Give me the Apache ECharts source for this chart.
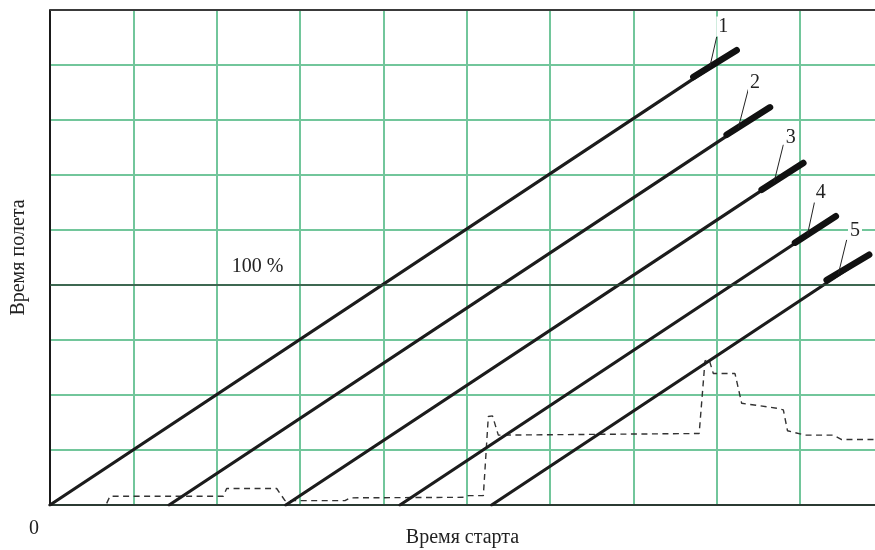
<!DOCTYPE html>
<html>
<head>
<meta charset="utf-8">
<script src="https://cdn.jsdelivr.net/npm/echarts@6/dist/echarts.min.js"></script>
<style>html,body{margin:0;padding:0;background:#fff}#c{width:875px;height:550px}</style>
</head>
<body>
<div id="c"></div>
<script>
// ---- data (grid units: x = start time, y = flight time) ----
const lineNames   = ['1', '2', '3', '4', '5'];
const lineStartX  = [0, 1.43, 2.83, 4.2, 5.3];
const lineStartY  = [0, 0, 0, 0, 0];
const thickStartX = [7.72, 8.12, 8.54, 8.94, 9.32];
const thickStartY = [7.78, 6.73, 5.73, 4.77, 4.09];
const lineEndX    = [8.24, 8.64, 9.04, 9.43, 9.83];
const lineEndY    = [8.27, 7.23, 6.22, 5.25, 4.55];
const labelX      = [8.08, 8.46, 8.89, 9.25, 9.66];
const labelY      = [8.70, 7.68, 6.67, 5.68, 4.98];
const leaderTopX  = [8.00, 8.38, 8.80, 9.18, 9.56];
const leaderTopY  = [8.51, 7.56, 6.55, 5.55, 4.82];
const leaderBotX  = [7.92, 8.26, 8.69, 9.09, 9.46];
const leaderBotY  = [7.98, 6.86, 5.88, 4.92, 4.20];
const loadX = [0.68, 0.72, 2.08, 2.12, 2.72, 2.82, 3.54, 3.60, 4.98, 5.02, 5.20, 5.26, 5.31, 5.38, 7.79, 7.86, 7.91, 7.96, 8.22, 8.30, 8.72, 8.80, 8.85, 9.06, 9.40, 9.50, 9.90];
const loadY = [0.03, 0.16, 0.16, 0.30, 0.30, 0.08, 0.08, 0.13, 0.14, 0.17, 0.17, 1.61, 1.62, 1.27, 1.30, 2.62, 2.64, 2.39, 2.39, 1.85, 1.76, 1.73, 1.35, 1.27, 1.27, 1.19, 1.19];
const fullLevel = 4;          // 100 %
const fullLabel = '100 %';
const fullLabelPos = [2.49, 4.33];
const xAxisTitle = 'Время старта';
const yAxisTitle = 'Время полета';
const xMin = 0, xMax = 9.9, yMin = 0, yMax = 9;

// ---- build ----
const FONT = 'Liberation Serif';
const GREEN = '#72c69b';
const series = [];

series.push({
  type: 'line', name: 'load', data: loadX.map((x, i) => [x, loadY[i]]),
  symbol: 'none', lineStyle: { color: '#333', width: 1.4, type: [6, 4.5] }, z: 3
});

lineNames.forEach((n, i) => {
  series.push({
    type: 'line', data: [[lineStartX[i], lineStartY[i]], [lineEndX[i], lineEndY[i]]],
    symbol: 'none', lineStyle: { color: '#1c1c1c', width: 3.2, cap: 'round' }, z: 4
  });
  series.push({
    type: 'line', data: [[thickStartX[i], thickStartY[i]], [lineEndX[i], lineEndY[i]]],
    symbol: 'none', lineStyle: { color: '#111', width: 6.5, cap: 'round' }, z: 5
  });
  series.push({
    type: 'line', data: [[leaderTopX[i], leaderTopY[i]], [leaderBotX[i], leaderBotY[i]]],
    symbol: 'none', lineStyle: { color: '#222', width: 1 }, z: 5
  });
});

series.push({
  type: 'scatter', symbolSize: 0, z: 6, itemStyle: { opacity: 1 },
  data: lineNames.map((n, i) => ({ value: [labelX[i], labelY[i]], name: n })),
  label: { show: true, position: 'inside', formatter: p => p.name, fontFamily: FONT, fontSize: 20,
           color: '#222', backgroundColor: '#fff', padding: [0, 2] }
});

series.push({
  type: 'scatter', symbolSize: 0, z: 6, itemStyle: { opacity: 1 },
  data: [{ value: fullLabelPos, name: fullLabel }],
  label: { show: true, position: 'inside', formatter: p => p.name, fontFamily: FONT, fontSize: 20, color: '#222' },
  markLine: {
    silent: true, symbol: 'none', label: { show: false },
    lineStyle: { color: '#2c4838', width: 1.6, type: 'solid' },
    data: [
      { yAxis: fullLevel },
      { yAxis: yMax, lineStyle: { color: '#3a3a3a', width: 1.8 } }
    ]
  }
});

const option = {
  animation: false,
  backgroundColor: '#fff',
  grid: { left: 50, top: 10, right: 0, bottom: 45, outerBoundsMode: 'none', containLabel: false },
  xAxis: {
    type: 'value', min: xMin, max: xMax, interval: 1,
    name: xAxisTitle, nameLocation: 'middle', nameGap: 23, nameMoveOverlap: false,
    nameTextStyle: { fontFamily: FONT, fontSize: 20, color: '#222' },
    axisLine: { show: true, onZero: false, lineStyle: { color: '#2b3a32', width: 2 } },
    axisTick: { show: false },
    axisLabel: { show: true, formatter: v => (v === 0 ? '0' : ''), align: 'right', padding: [0, 11, 0, 0],
                 margin: 14, fontFamily: FONT, fontSize: 20, color: '#222', showMaxLabel: false },
    splitLine: { show: true, showMinLine: false, showMaxLine: false, lineStyle: { color: GREEN, width: 2 } }
  },
  yAxis: {
    type: 'value', min: yMin, max: yMax, interval: 1,
    name: yAxisTitle, nameLocation: 'middle', nameGap: 21, nameRotate: 90, nameMoveOverlap: false,
    nameTextStyle: { fontFamily: FONT, fontSize: 20, color: '#222' },
    axisLine: { show: true, lineStyle: { color: '#1a1a1a', width: 2 } },
    axisTick: { show: false }, axisLabel: { show: false },
    splitLine: { show: true, showMinLine: false, showMaxLine: false, lineStyle: { color: GREEN, width: 2 } }
  },
  series: series
};

const chart = echarts.init(document.getElementById('c'), null, { renderer: 'canvas' });
chart.setOption(option);
</script>
</body>
</html>
